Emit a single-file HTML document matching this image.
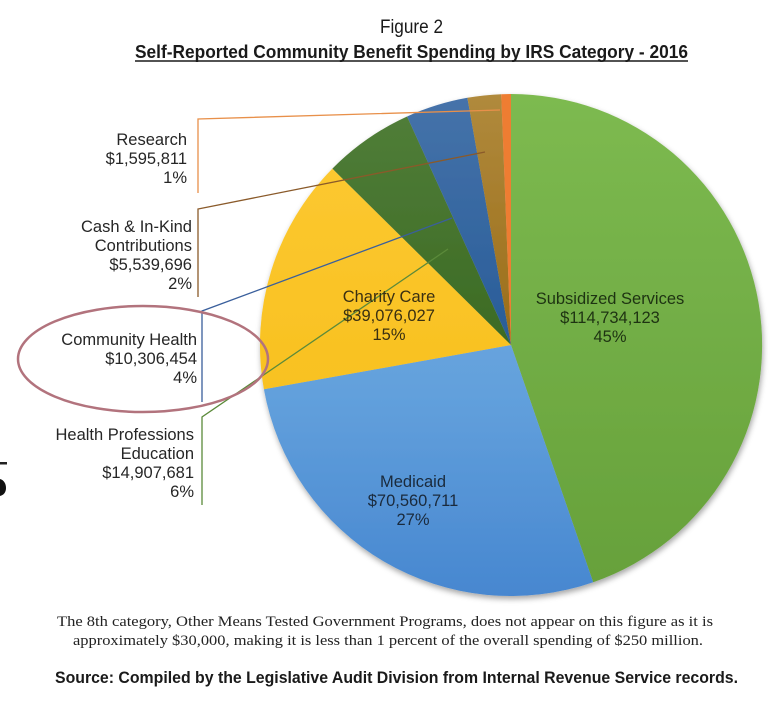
<!DOCTYPE html>
<html>
<head>
<meta charset="utf-8">
<style>
  html,body{margin:0;padding:0;background:#fff;}
  svg{display:block;}
  .lbl{font-family:"Liberation Sans",Arial,sans-serif;font-size:16.5px;fill:#262626;}
</style>
</head>
<body>
<svg width="781" height="709" viewBox="0 0 781 709" xmlns="http://www.w3.org/2000/svg">
  <defs>
    <linearGradient id="gGreen" gradientUnits="userSpaceOnUse" x1="0" y1="94" x2="0" y2="596">
      <stop offset="0" stop-color="#7dba50"/><stop offset="1" stop-color="#66a03a"/>
    </linearGradient>
    <linearGradient id="gBlue" gradientUnits="userSpaceOnUse" x1="0" y1="94" x2="0" y2="596">
      <stop offset="0" stop-color="#7fb2e3"/><stop offset="0.6" stop-color="#62a0dc"/><stop offset="1" stop-color="#4787d0"/>
    </linearGradient>
    <linearGradient id="gYellow" gradientUnits="userSpaceOnUse" x1="0" y1="94" x2="0" y2="596">
      <stop offset="0" stop-color="#fdca35"/><stop offset="1" stop-color="#f5bb12"/>
    </linearGradient>
    <linearGradient id="gDkGreen" gradientUnits="userSpaceOnUse" x1="0" y1="94" x2="0" y2="350">
      <stop offset="0" stop-color="#527f3a"/><stop offset="1" stop-color="#3b6a23"/>
    </linearGradient>
    <linearGradient id="gDkBlue" gradientUnits="userSpaceOnUse" x1="0" y1="94" x2="0" y2="350">
      <stop offset="0" stop-color="#4673aa"/><stop offset="1" stop-color="#275c98"/>
    </linearGradient>
    <linearGradient id="gBrown" gradientUnits="userSpaceOnUse" x1="0" y1="94" x2="0" y2="350">
      <stop offset="0" stop-color="#b08a3c"/><stop offset="1" stop-color="#9a6c18"/>
    </linearGradient>
    <filter id="shadow" x="-10%" y="-10%" width="120%" height="125%">
      <feDropShadow dx="1" dy="3" stdDeviation="3" flood-color="#000" flood-opacity="0.35"/>
    </filter>
  </defs>

  <!-- Titles -->
  <text x="380" y="33" font-family="'Liberation Sans',Arial,sans-serif" font-size="19" fill="#1a1a1a" textLength="63" lengthAdjust="spacingAndGlyphs">Figure 2</text>
  <text x="135" y="58" font-family="'Liberation Sans',Arial,sans-serif" font-size="18.5" font-weight="bold" fill="#1a1a1a" textLength="553" lengthAdjust="spacingAndGlyphs">Self-Reported Community Benefit Spending by IRS Category - 2016</text>
  <line x1="135" y1="61" x2="688" y2="61" stroke="#1a1a1a" stroke-width="1.5"/>

  <!-- Pie -->
  <g filter="url(#shadow)">
    <path d="M511,345 L511,94 A251,251 0 0 1 593.2,582.2 Z" fill="url(#gGreen)"/>
    <path d="M511,345 L593.2,582.2 A251,251 0 0 1 263.9,389.3 Z" fill="url(#gBlue)"/>
    <path d="M511,345 L263.9,389.3 A251,251 0 0 1 332.4,168.6 Z" fill="url(#gYellow)"/>
    <path d="M511,345 L332.4,168.6 A251,251 0 0 1 407.1,116.5 Z" fill="url(#gDkGreen)"/>
    <path d="M511,345 L407.1,116.5 A251,251 0 0 1 467.4,97.8 Z" fill="url(#gDkBlue)"/>
    <path d="M511,345 L467.4,97.8 A251,251 0 0 1 501.2,94.2 Z" fill="url(#gBrown)"/>
    <path d="M511,345 L501.2,94.2 A251,251 0 0 1 511,94 Z" fill="#ee7d30"/>
  </g>

  <!-- Leader lines -->
  <polyline points="198,193 198,119 500,110" fill="none" stroke="#e8904a" stroke-width="1.3"/>
  <polyline points="198,297 198,209 485,152" fill="none" stroke="#8a5a2a" stroke-width="1.3"/>
  <polyline points="202,402 202,311 452,218" fill="none" stroke="#3a5f9c" stroke-width="1.3"/>
  <polyline points="202,505 202,417 448,249" fill="none" stroke="#5b8a3a" stroke-width="1.3"/>

  <!-- Ellipse highlight -->
  <ellipse cx="143" cy="359" rx="125" ry="53" fill="none" stroke="#b2737d" stroke-width="2.5"/>

  <!-- Outside labels -->
  <g class="lbl" text-anchor="end">
    <text x="187" y="145">Research</text>
    <text x="187" y="164">$1,595,811</text>
    <text x="187" y="183">1%</text>

    <text x="192" y="232">Cash &amp; In-Kind</text>
    <text x="192" y="251">Contributions</text>
    <text x="192" y="270">$5,539,696</text>
    <text x="192" y="289">2%</text>

    <text x="197" y="345">Community Health</text>
    <text x="197" y="364">$10,306,454</text>
    <text x="197" y="383">4%</text>

    <text x="194" y="440">Health Professions</text>
    <text x="194" y="459">Education</text>
    <text x="194" y="478">$14,907,681</text>
    <text x="194" y="497">6%</text>
  </g>

  <!-- Inside labels -->
  <g class="lbl" text-anchor="middle">
    <text x="389" y="302" fill="#3a3012">Charity Care</text>
    <text x="389" y="321" fill="#3a3012">$39,076,027</text>
    <text x="389" y="340" fill="#3a3012">15%</text>

    <text x="610" y="304" fill="#1e3312">Subsidized Services</text>
    <text x="610" y="323" fill="#1e3312">$114,734,123</text>
    <text x="610" y="342" fill="#1e3312">45%</text>

    <text x="413" y="487" fill="#1a2a3c">Medicaid</text>
    <text x="413" y="506" fill="#1a2a3c">$70,560,711</text>
    <text x="413" y="525" fill="#1a2a3c">27%</text>
  </g>

  <!-- Footnote -->
  <text x="57" y="626" font-family="'Liberation Serif','Times New Roman',serif" font-size="15" fill="#222" textLength="656" lengthAdjust="spacingAndGlyphs">The 8th category, Other Means Tested Government Programs, does not appear on this figure as it is</text>
  <text x="73" y="645" font-family="'Liberation Serif','Times New Roman',serif" font-size="15" fill="#222" textLength="630" lengthAdjust="spacingAndGlyphs">approximately $30,000, making it is less than 1 percent of the overall spending of $250 million.</text>

  <text x="55" y="683" font-family="'Liberation Sans',Arial,sans-serif" font-size="16.5" font-weight="bold" fill="#1a1a1a" textLength="683" lengthAdjust="spacingAndGlyphs">Source: Compiled by the Legislative Audit Division from Internal Revenue Service records.</text>

  <!-- Left edge artifacts -->
  <rect x="0" y="462" width="7" height="2.5" fill="#222"/>
  <path d="M0,479 C4,480 6,484 6,488 C6,492 4,495 0,496 Z" fill="#111"/>
</svg>
</body>
</html>
